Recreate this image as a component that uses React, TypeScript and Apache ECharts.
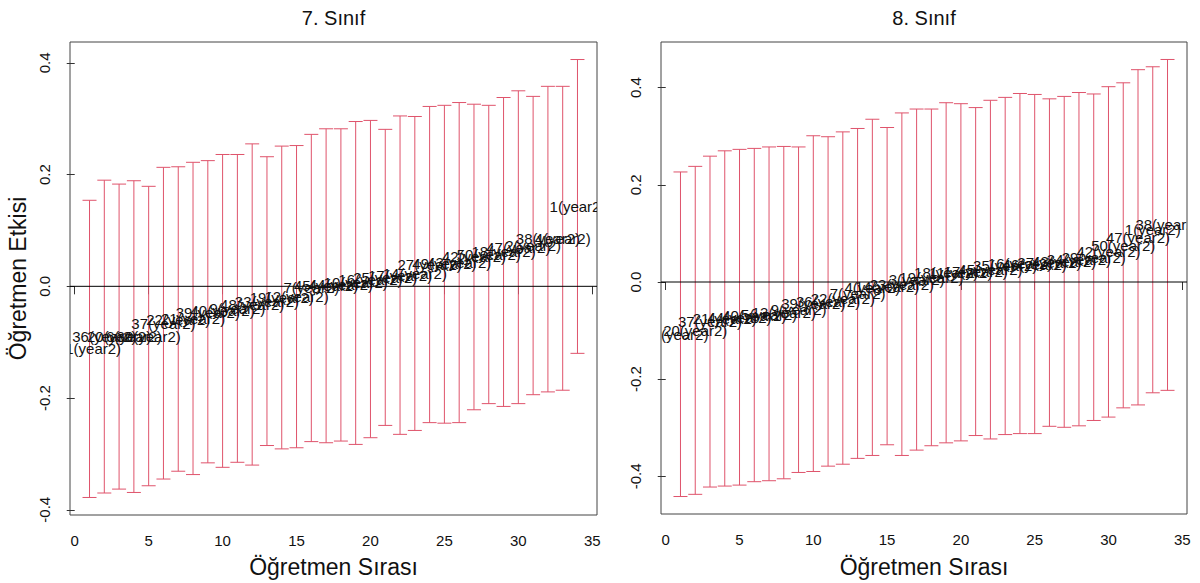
import React, { useEffect, useRef } from "react";
import * as echarts from "echarts";

const rank = [1, 2, 3, 4, 5, 6, 7, 8, 9, 10, 11, 12, 13, 14, 15, 16, 17, 18, 19, 20, 21, 22, 23, 24, 25, 26, 27, 28, 29, 30, 31, 32, 33, 34];

const grade7Ids = [11, 36, 20, 6, 30, 37, 22, 21, 39, 40, 9, 48, 33, 19, 12, 7, 45, 44, 10, 16, 25, 17, 14, 27, 49, 43, 42, 50, 18, 47, 2, 38, 4, 1];
const grade7Est = [-0.112, -0.09, -0.09, -0.09, -0.089, -0.066, -0.059, -0.058, -0.046, -0.044, -0.04, -0.033, -0.027, -0.02, -0.019, -0.003, 0.001, 0.003, 0.006, 0.013, 0.016, 0.02, 0.023, 0.039, 0.04, 0.043, 0.053, 0.057, 0.062, 0.07, 0.073, 0.085, 0.086, 0.143];
const grade7Lower = [-0.378, -0.37, -0.363, -0.369, -0.357, -0.345, -0.331, -0.337, -0.316, -0.324, -0.315, -0.32, -0.285, -0.291, -0.289, -0.278, -0.28, -0.277, -0.283, -0.271, -0.249, -0.265, -0.258, -0.244, -0.245, -0.244, -0.221, -0.21, -0.215, -0.21, -0.194, -0.189, -0.186, -0.12];
const grade7Upper = [0.154, 0.19, 0.183, 0.189, 0.179, 0.213, 0.214, 0.222, 0.225, 0.236, 0.236, 0.255, 0.232, 0.251, 0.252, 0.272, 0.282, 0.282, 0.295, 0.297, 0.281, 0.305, 0.304, 0.322, 0.324, 0.329, 0.326, 0.324, 0.338, 0.35, 0.34, 0.358, 0.358, 0.406];

const grade8Ids = [6, 20, 37, 21, 44, 40, 5, 13, 9, 39, 36, 22, 7, 4, 14, 23, 3, 19, 18, 11, 17, 45, 35, 16, 46, 27, 43, 34, 29, 42, 50, 47, 1, 38];
const grade8Est = [-0.108, -0.1, -0.082, -0.075, -0.073, -0.068, -0.066, -0.063, -0.057, -0.045, -0.04, -0.033, -0.024, -0.011, -0.009, -0.005, 0.005, 0.01, 0.019, 0.02, 0.022, 0.026, 0.033, 0.038, 0.037, 0.04, 0.042, 0.047, 0.051, 0.062, 0.076, 0.092, 0.108, 0.118];
const grade8Lower = [-0.4415, -0.437, -0.422, -0.42, -0.418, -0.411, -0.409, -0.405, -0.392, -0.39, -0.379, -0.375, -0.363, -0.357, -0.335, -0.357, -0.346, -0.337, -0.331, -0.327, -0.316, -0.323, -0.314, -0.312, -0.312, -0.297, -0.299, -0.296, -0.285, -0.278, -0.259, -0.253, -0.228, -0.223];
const grade8Upper = [0.2265, 0.238, 0.259, 0.27, 0.273, 0.275, 0.278, 0.279, 0.278, 0.301, 0.299, 0.309, 0.316, 0.335, 0.318, 0.348, 0.356, 0.356, 0.369, 0.367, 0.359, 0.374, 0.38, 0.388, 0.386, 0.377, 0.382, 0.39, 0.387, 0.402, 0.41, 0.437, 0.443, 0.458];

const xTicks = [0, 5, 10, 15, 20, 25, 30, 35];
const yTicks = [-0.4, -0.2, 0, 0.2, 0.4];

const panelTitles = ["7. Sınıf", "8. Sınıf"];
const xTitle = "Öğretmen Sırası";
const yTitle = "Öğretmen Etkisi";

const FONT = '"Liberation Sans", Arial, Helvetica, sans-serif';
const BAR_COLOR = "#DF536B";

const panels = [
  { ids: grade7Ids, est: grade7Est, lower: grade7Lower, upper: grade7Upper },
  { ids: grade8Ids, est: grade8Est, lower: grade8Lower, upper: grade8Upper },
];

const grids = [
  { left: 70, top: 42, width: 527, height: 473 },
  { left: 661, top: 42, width: 526, height: 472 },
];

function padRange(lo: number, hi: number) {
  const p = (hi - lo) * 0.04;
  return [lo - p, hi + p];
}

export default function App() {
  const ref = useRef<HTMLDivElement>(null);
  useEffect(() => {
    if (!ref.current) return;
    const chart = echarts.init(ref.current, null, { renderer: "svg" });
    const [xMin, xMax] = padRange(Math.min(...rank), Math.max(...rank));

    const xAxis: any[] = [];
    const yAxis: any[] = [];
    const series: any[] = [];
    const graphic: any[] = [];

    panels.forEach((p, i) => {
      const [yMin, yMax] = padRange(Math.min(...p.lower), Math.max(...p.upper));
      xAxis.push({
        gridIndex: i,
        type: "value",
        min: xMin,
        max: xMax,
        splitLine: { show: false },
        axisLine: { show: false },
        axisTick: { show: true, length: 8, customValues: xTicks, lineStyle: { color: "#333" } },
        axisLabel: { customValues: xTicks, fontSize: 15, color: "#111", margin: 18, fontFamily: FONT },
      });
      yAxis.push({
        gridIndex: i,
        type: "value",
        min: yMin,
        max: yMax,
        splitLine: { show: false },
        axisLine: { show: false },
        axisTick: { show: true, length: 8, customValues: yTicks, lineStyle: { color: "#333" } },
        axisLabel: {
          customValues: yTicks,
          rotate: 90,
          fontSize: 15,
          color: "#111",
          margin: 18,
          fontFamily: FONT,
          formatter: (v: number) => (Math.abs(v) < 1e-9 ? "0.0" : v.toFixed(1)),
        },
      });

      series.push({
        type: "custom",
        xAxisIndex: i,
        yAxisIndex: i,
        clip: true,
        data: rank.map((r, k) => [r, p.lower[k], p.upper[k]]),
        encode: { x: 0, y: [1, 2] },
        renderItem: (params: any, api: any) => {
          const x = api.value(0);
          const lo = api.coord([x, api.value(1)]);
          const hi = api.coord([x, api.value(2)]);
          const st = { stroke: BAR_COLOR, lineWidth: 1 };
          return {
            type: "group",
            children: [
              { type: "line", shape: { x1: lo[0], y1: lo[1], x2: hi[0], y2: hi[1] }, style: st },
              { type: "line", shape: { x1: lo[0] - 7, y1: lo[1], x2: lo[0] + 7, y2: lo[1] }, style: st },
              { type: "line", shape: { x1: hi[0] - 7, y1: hi[1], x2: hi[0] + 7, y2: hi[1] }, style: st },
            ],
          };
        },
        z: 2,
      });

      series.push({
        type: "line",
        xAxisIndex: i,
        yAxisIndex: i,
        data: [
          [xMin, 0],
          [xMax, 0],
        ],
        symbol: "none",
        silent: true,
        lineStyle: { color: "#000", width: 1 },
        z: 3,
      });

      series.push({
        type: "custom",
        xAxisIndex: i,
        yAxisIndex: i,
        clip: true,
        data: rank.map((r, k) => [r, p.est[k]]),
        encode: { x: 0, y: 1 },
        renderItem: (params: any, api: any) => {
          const pt = api.coord([api.value(0), api.value(1)]);
          return {
            type: "text",
            x: pt[0],
            y: pt[1],
            style: {
              text: p.ids[params.dataIndex] + "(year2)",
              fill: "#111",
              font: "15px " + FONT,
              align: "center",
              verticalAlign: "middle",
            },
          };
        },
        z: 4,
      });

      const g = grids[i];
      graphic.push({
        type: "text",
        x: g.left + g.width / 2,
        y: 18,
        style: { text: panelTitles[i], font: "20px " + FONT, fill: "#111", align: "center", verticalAlign: "middle" },
      });
      graphic.push({
        type: "text",
        x: g.left + g.width / 2,
        y: 567,
        style: { text: xTitle, font: "23px " + FONT, fill: "#111", align: "center", verticalAlign: "middle" },
      });
    });

    graphic.push({
      type: "text",
      x: 18,
      y: grids[0].top + grids[0].height / 2,
      rotation: Math.PI / 2,
      style: { text: yTitle, font: "23px " + FONT, fill: "#111", align: "center", verticalAlign: "middle" },
    });

    chart.setOption({
      animation: false,
      backgroundColor: "#fff",
      grid: grids.map((g) => ({ ...g, show: true, borderColor: "#444", borderWidth: 1, backgroundColor: "transparent" })),
      xAxis,
      yAxis,
      series,
      graphic,
    });
    return () => chart.dispose();
  }, []);
  return <div ref={ref} style={{ position: "fixed", left: 0, top: 0, width: 1200, height: 583 }} />;
}
